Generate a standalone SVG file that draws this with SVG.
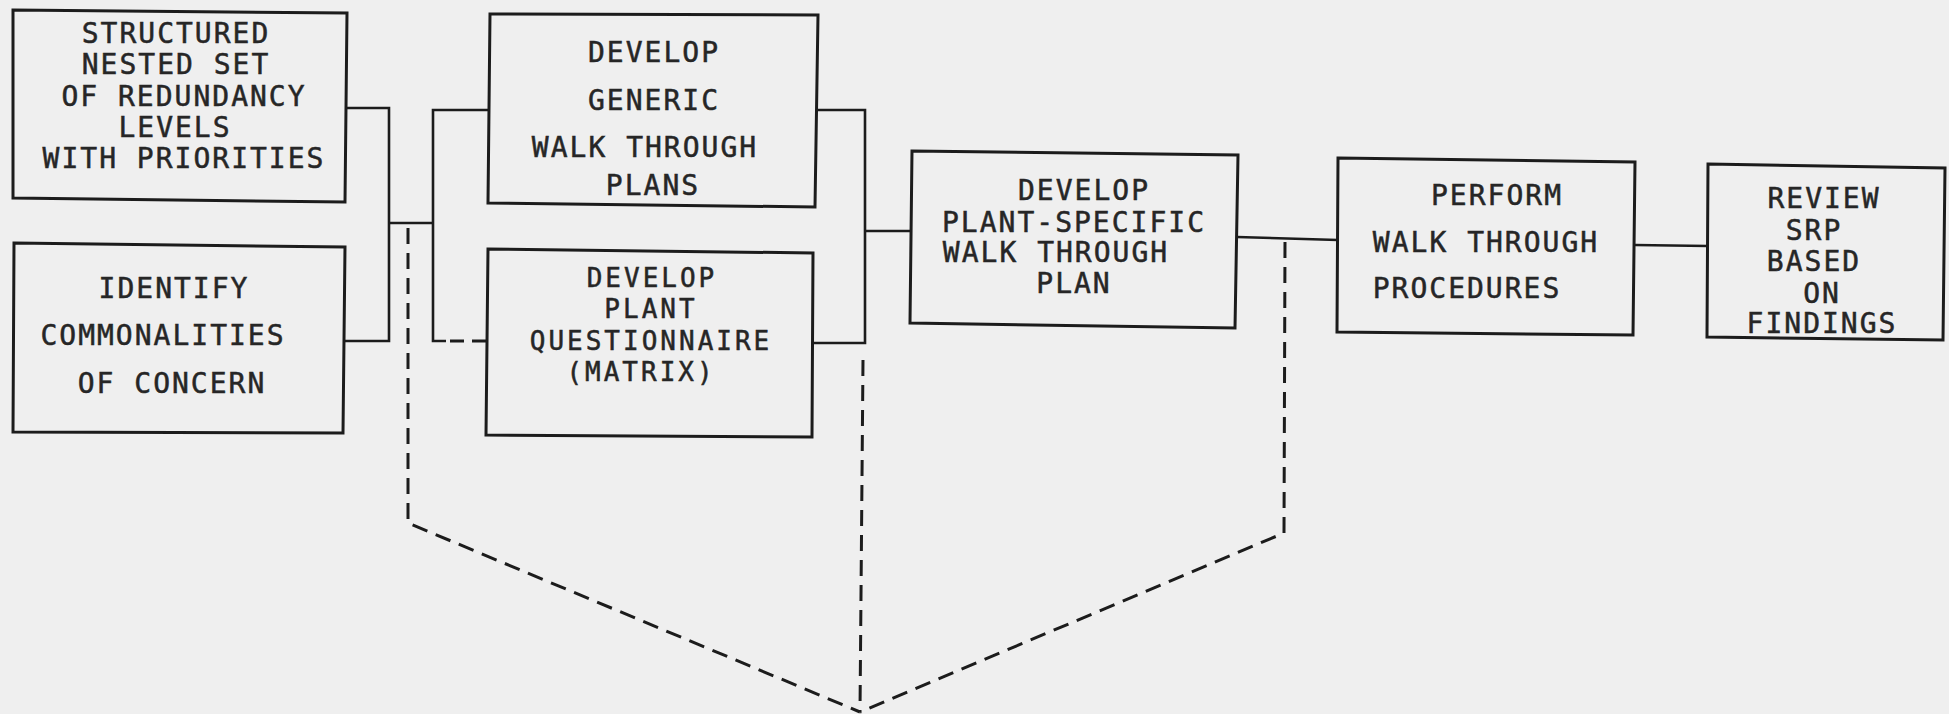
<svg xmlns="http://www.w3.org/2000/svg" width="1949" height="714" viewBox="0 0 1949 714">
<style>
.box{fill:none;stroke:#1c1c1c;stroke-width:3;stroke-linejoin:miter}
.ln{fill:none;stroke:#1c1c1c;stroke-width:2.6}
.dash{fill:none;stroke:#1c1c1c;stroke-width:3;stroke-dasharray:16 9}
text{font-family:"DejaVu Sans Mono","Liberation Mono",monospace;font-size:28px;letter-spacing:2px;fill:#262626;stroke:#262626;stroke-width:0.5;text-anchor:middle}
.tight{font-size:26px;letter-spacing:3px}
</style>
<rect width="1949" height="714" fill="#efefef"/>
<g id="connectors">
<polyline class="ln" points="347,108 389,108 389,341 344,341"/>
<line class="ln" x1="389" y1="223" x2="433" y2="223"/>
<polyline class="ln" points="490,110 433,110 433,341 446,341"/>
<line class="dash" x1="450" y1="341" x2="487" y2="341" style="stroke-dasharray:14 8"/>
<polyline class="ln" points="817,110 865,110 865,343 813,343"/>
<line class="ln" x1="865" y1="231" x2="911" y2="231"/>
<line class="ln" x1="1237" y1="237" x2="1338" y2="240"/>
<line class="ln" x1="1635" y1="245" x2="1708" y2="246"/>
<polyline class="dash" points="408,228 408,523 860,712"/>
<line class="dash" x1="863" y1="360" x2="860" y2="712"/>
<polyline class="dash" points="1285,242 1284,533 860,712"/>
</g>
<g id="n1">
<polygon class="box" points="13,10 347,13 345,202 13,198"/>
<text x="176" y="43">STRUCTURED</text>
<text x="176" y="74">NESTED SET</text>
<text x="184" y="106">OF REDUNDANCY</text>
<text x="175" y="137">LEVELS</text>
<text x="184" y="168">WITH PRIORITIES</text>
</g>
<g id="n2">
<polygon class="box" points="14,243 345,247 343,433 13,432"/>
<text x="174" y="298">IDENTIFY</text>
<text x="163" y="345">COMMONALITIES</text>
<text x="172" y="393">OF CONCERN</text>
</g>
<g id="n3">
<polygon class="box" points="490,14 818,15 815,207 488,203"/>
<text x="654" y="62">DEVELOP</text>
<text x="654" y="110">GENERIC</text>
<text x="645" y="157">WALK THROUGH</text>
<text x="653" y="195">PLANS</text>
</g>
<g id="n4">
<polygon class="box" points="488,249 813,253 812,437 486,435"/>
<text class="tight" x="652" y="287">DEVELOP</text>
<text class="tight" x="651" y="318">PLANT</text>
<text class="tight" x="651" y="350">QUESTIONNAIRE</text>
<text class="tight" x="641" y="381">(MATRIX)</text>
</g>
<g id="n5">
<polygon class="box" points="912,151 1238,155 1235,328 910,323"/>
<text x="1084" y="200">DEVELOP</text>
<text x="1074" y="232">PLANT-SPECIFIC</text>
<text x="1056" y="262">WALK THROUGH</text>
<text x="1074" y="293">PLAN</text>
</g>
<g id="n6">
<polygon class="box" points="1338,158 1635,162 1633,335 1337,332"/>
<text x="1497" y="205">PERFORM</text>
<text x="1486" y="252">WALK THROUGH</text>
<text x="1467" y="298">PROCEDURES</text>
</g>
<g id="n7">
<polygon class="box" points="1708,164 1945,168 1943,340 1707,337"/>
<text x="1824" y="208">REVIEW</text>
<text x="1814" y="240">SRP</text>
<text x="1814" y="271">BASED</text>
<text x="1822" y="303">ON</text>
<text x="1822" y="333">FINDINGS</text>
</g>
</svg>
